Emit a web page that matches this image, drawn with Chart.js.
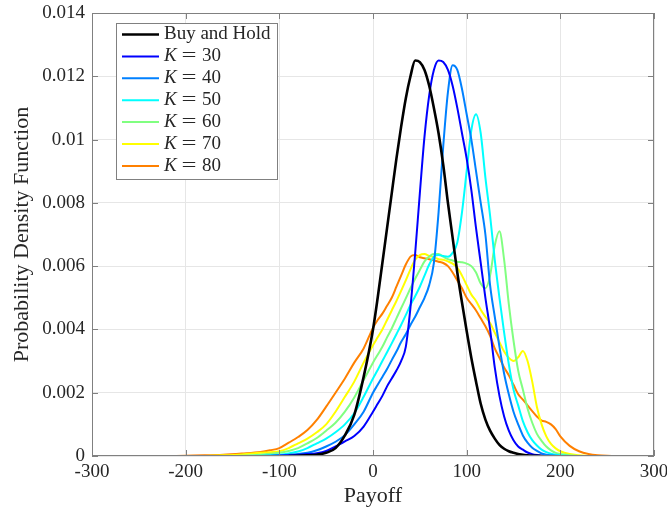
<!DOCTYPE html>
<html>
<head>
<meta charset="utf-8">
<script src="https://cdn.jsdelivr.net/npm/chart.js@4.4.1/dist/chart.umd.min.js"></script>
<style>
  html, body { margin: 0; padding: 0; background: #fff; }
  #wrap { width: 667px; height: 513px; }
</style>
</head>
<body>
<div id="wrap"><canvas id="pdf" width="667" height="513"></canvas></div>
<script>
// payoff grid (finer through the body of the distributions)
const payoff = [-215, -200, -180, -160, -140, -120, -110, -100, -90, -80, -70, -60, -50, -40, -30, -20, -10,
    0, 5, 10, 15, 20, 25, 30, 35, 40, 45, 50, 55, 60, 65, 70, 75, 80, 85, 90, 95, 100,
    105, 110, 115, 120, 125, 130, 135, 140, 145, 150, 155, 160, 165, 170, 175, 180, 185, 190, 195, 200,
    210, 220, 230, 240, 255];

// estimated densities, in units of 1e-3 (null = outside the support)
const buyHold = [null, null, null, null, null, null, null, null, 0, 0.01, 0.02, 0.04, 0.10, 0.25, 0.65, 1.30, 2.50,
    4.00, 5.00, 6.10, 7.20, 8.30, 9.40, 10.4, 11.3, 12.0, 12.5, 12.45, 12.2, 11.7, 11.0, 10.2, 9.2, 8.0, 6.9, 5.8, 4.85, 3.95,
    3.1, 2.35, 1.65, 1.15, 0.8, 0.55, 0.35, 0.23, 0.15, 0.10, 0.06, 0.04, 0.02, 0.01, 0.005, 0, null, null, null, null,
    null, null, null, null, null];
const k30 = [null, null, null, null, null, null, 0, 0.01, 0.02, 0.04, 0.06, 0.09, 0.16, 0.30, 0.46, 0.63, 0.93,
    1.40, 1.65, 1.90, 2.20, 2.45, 2.70, 3.00, 3.45, 4.70, 6.40, 8.30, 10.1, 11.4, 12.2, 12.5, 12.45, 12.2, 11.7, 11.0, 10.2, 9.4,
    8.4, 7.2, 6.1, 5.0, 4.0, 2.8, 1.9, 1.25, 0.80, 0.50, 0.30, 0.20, 0.11, 0.06, 0.03, 0.01, 0, null, null, null,
    null, null, null, null, null];
const k40 = [null, null, null, null, null, 0, 0.01, 0.02, 0.04, 0.06, 0.10, 0.18, 0.30, 0.45, 0.66, 1.00, 1.40,
    2.00, 2.25, 2.50, 2.75, 3.03, 3.30, 3.60, 3.85, 4.14, 4.40, 4.70, 5.00, 5.40, 6.10, 7.70, 9.80, 11.5, 12.35, 12.2, 11.6, 10.8,
    10.0, 9.0, 8.0, 7.0, 5.4, 4.4, 3.45, 2.6, 1.95, 1.4, 1.0, 0.65, 0.42, 0.26, 0.16, 0.08, 0.04, 0.02, 0.01, 0,
    null, null, null, null, null];
const k50 = [null, null, null, null, 0, 0.01, 0.02, 0.04, 0.08, 0.14, 0.25, 0.40, 0.55, 0.75, 1.00, 1.35, 1.87,
    2.45, 2.72, 3.00, 3.28, 3.56, 3.85, 4.14, 4.45, 4.77, 5.05, 5.35, 5.70, 6.05, 6.30, 6.35, 6.32, 6.30, 6.42, 6.75, 7.70, 9.00,
    10.3, 10.8, 10.2, 8.8, 7.6, 6.2, 5.0, 3.9, 2.9, 2.1, 1.6, 1.1, 0.75, 0.50, 0.33, 0.20, 0.12, 0.07, 0.04, 0.02,
    0, null, null, null, null];
const k60 = [null, null, null, 0, 0.01, 0.04, 0.07, 0.10, 0.16, 0.25, 0.40, 0.57, 0.80, 1.05, 1.40, 1.85, 2.40,
    2.95, 3.20, 3.45, 3.75, 4.03, 4.35, 4.67, 4.98, 5.30, 5.60, 5.88, 6.15, 6.30, 6.38, 6.38, 6.30, 6.22, 6.18, 6.14, 6.12, 6.08,
    6.00, 5.80, 5.45, 5.30, 5.70, 6.65, 7.10, 6.20, 4.80, 3.65, 2.70, 2.10, 1.50, 1.05, 0.70, 0.48, 0.30, 0.18, 0.10, 0.06,
    0.02, 0, null, null, null];
const k70 = [null, null, 0, 0.02, 0.05, 0.10, 0.12, 0.15, 0.25, 0.40, 0.55, 0.75, 1.00, 1.40, 1.87, 2.35, 2.95,
    3.50, 3.75, 4.00, 4.30, 4.60, 4.90, 5.22, 5.55, 5.90, 6.20, 6.35, 6.38, 6.32, 6.28, 6.22, 6.20, 6.15, 6.08, 5.95, 5.70, 5.40,
    5.10, 4.90, 4.62, 4.40, 4.20, 3.90, 3.60, 3.30, 3.10, 3.00, 3.12, 3.32, 3.00, 2.35, 1.55, 1.00, 0.62, 0.38, 0.24, 0.15,
    0.06, 0.02, 0, null, null];
const k80 = [0, 0.01, 0.02, 0.04, 0.08, 0.13, 0.18, 0.25, 0.42, 0.60, 0.82, 1.14, 1.56, 2.00, 2.45, 2.95, 3.40,
    4.05, 4.30, 4.50, 4.75, 5.00, 5.35, 5.70, 6.05, 6.30, 6.35, 6.28, 6.25, 6.22, 6.18, 6.14, 6.10, 6.00, 5.80, 5.55, 5.30, 5.00,
    4.80, 4.60, 4.35, 4.10, 3.80, 3.40, 3.10, 2.80, 2.55, 2.25, 1.95, 1.78, 1.60, 1.42, 1.25, 1.12, 1.08, 1.00, 0.85, 0.62,
    0.32, 0.15, 0.06, 0.02, 0];

const seriesNames = ['Buy and Hold', 'K = 30', 'K = 40', 'K = 50', 'K = 60', 'K = 70', 'K = 80'];
const seriesData = [buyHold, k30, k40, k50, k60, k70, k80];
const seriesColors = ['#000000', '#0000ff', '#0080ff', '#00ffff', '#80ff80', '#ffff00', '#ff8000'];

const FONT = '"Liberation Serif", "Times New Roman", serif';
const TEXT = '#262626';
const AXIS = '#808080';

function toPoints(vals) {
    const pts = [];
    vals.forEach((v, i) => {
        if (v !== null) pts.push({x: payoff[i], y: v / 1000});
    });
    return pts;
}

// box round the axes with inward tick marks on all four sides
const frame = {
    id: 'frame',
    afterDatasetsDraw(chart) {
        const {ctx, chartArea: a, scales: {x, y}} = chart;
        const len = 6;
        ctx.save();
        ctx.strokeStyle = AXIS;
        ctx.lineWidth = 1;
        ctx.beginPath();
        x.ticks.forEach(t => {
            const px = Math.round(x.getPixelForValue(t.value)) + 0.5;
            ctx.moveTo(px, a.bottom); ctx.lineTo(px, a.bottom - len);
            ctx.moveTo(px, a.top); ctx.lineTo(px, a.top + len);
        });
        y.ticks.forEach(t => {
            const py = Math.round(y.getPixelForValue(t.value)) + 0.5;
            ctx.moveTo(a.left, py); ctx.lineTo(a.left + len, py);
            ctx.moveTo(a.right, py); ctx.lineTo(a.right - len, py);
        });
        ctx.stroke();
        ctx.strokeRect(Math.round(a.left) + 0.5, Math.round(a.top) + 0.5,
            Math.round(a.width) - 1, Math.round(a.height) - 1);
        ctx.restore();
    }
};

// boxed legend in the upper left of the axes, K set in italics
const boxLegend = {
    id: 'boxLegend',
    afterDraw(chart) {
        const ctx = chart.ctx;
        const box = {left: 116, top: 23, width: 161, height: 156};
        const rowTop = 34.5, rowGap = 21.9;
        ctx.save();
        ctx.fillStyle = '#ffffff';
        ctx.fillRect(box.left, box.top, box.width, box.height);
        ctx.strokeStyle = AXIS;
        ctx.lineWidth = 1;
        ctx.strokeRect(box.left + 0.5, box.top + 0.5, box.width, box.height);
        ctx.textBaseline = 'middle';
        chart.data.datasets.forEach((ds, i) => {
            const yy = rowTop + i * rowGap;
            ctx.strokeStyle = ds.borderColor;
            ctx.lineWidth = ds.borderWidth;
            ctx.beginPath();
            ctx.moveTo(122, yy);
            ctx.lineTo(159, yy);
            ctx.stroke();
            ctx.fillStyle = TEXT;
            const parts = ds.label.split(' = ');
            ctx.textAlign = 'left';
            if (parts.length === 2) {
                ctx.font = 'italic 19px ' + FONT;
                ctx.fillText(parts[0], 164, yy);
                ctx.font = '19px ' + FONT;
                // wider equals sign, as in TeX math
                ctx.save();
                ctx.translate(189, yy);
                ctx.scale(1.4, 1);
                ctx.textAlign = 'center';
                ctx.fillText('=', 0, 0);
                ctx.restore();
                ctx.fillText(parts[1], 202, yy);
            } else {
                ctx.font = '19px ' + FONT;
                ctx.fillText(ds.label, 164, yy);
            }
        });
        ctx.restore();
    }
};

const datasets = seriesNames.map((name, i) => ({
    label: name,
    data: toPoints(seriesData[i]),
    borderColor: seriesColors[i],
    borderWidth: i === 0 ? 2.6 : 2,
    pointRadius: 0,
    fill: false,
    cubicInterpolationMode: 'monotone',
}));

new Chart(document.getElementById('pdf').getContext('2d'), {
    type: 'line',
    data: {datasets: datasets},
    options: {
        responsive: false,
        devicePixelRatio: 1,
        animation: false,
        layout: {padding: {top: 13, right: 13, left: 0, bottom: 0}},
        plugins: {
            legend: {display: false},
            tooltip: {enabled: false},
        },
        scales: {
            x: {
                type: 'linear',
                min: -300,
                max: 300,
                border: {display: false},
                grid: {color: '#e6e6e6', drawTicks: false},
                ticks: {
                    stepSize: 100,
                    padding: 5,
                    color: TEXT,
                    font: {family: FONT, size: 19},
                    callback: v => String(v),
                },
                title: {
                    display: true,
                    text: 'Payoff',
                    color: TEXT,
                    font: {family: FONT, size: 22},
                    padding: {top: 0, bottom: 4},
                },
                afterFit: s => {
                    s.height = 57;
                    s.paddingLeft = 0;
                    s.paddingRight = 0;
                },
            },
            y: {
                type: 'linear',
                min: 0,
                max: 0.014,
                border: {display: false},
                grid: {color: '#e6e6e6', drawTicks: false},
                ticks: {
                    stepSize: 0.002,
                    padding: 7,
                    color: TEXT,
                    font: {family: FONT, size: 19},
                    callback: v => String(parseFloat(v.toFixed(3))),
                },
                title: {
                    display: true,
                    text: 'Probability Density Function',
                    color: TEXT,
                    font: {family: FONT, size: 22},
                    padding: {top: 9, bottom: 0},
                },
                afterFit: s => {
                    s.width = 92;
                    s.paddingTop = 0;
                    s.paddingBottom = 0;
                },
            },
        },
    },
    plugins: [frame, boxLegend],
});
</script>
</body>
</html>
